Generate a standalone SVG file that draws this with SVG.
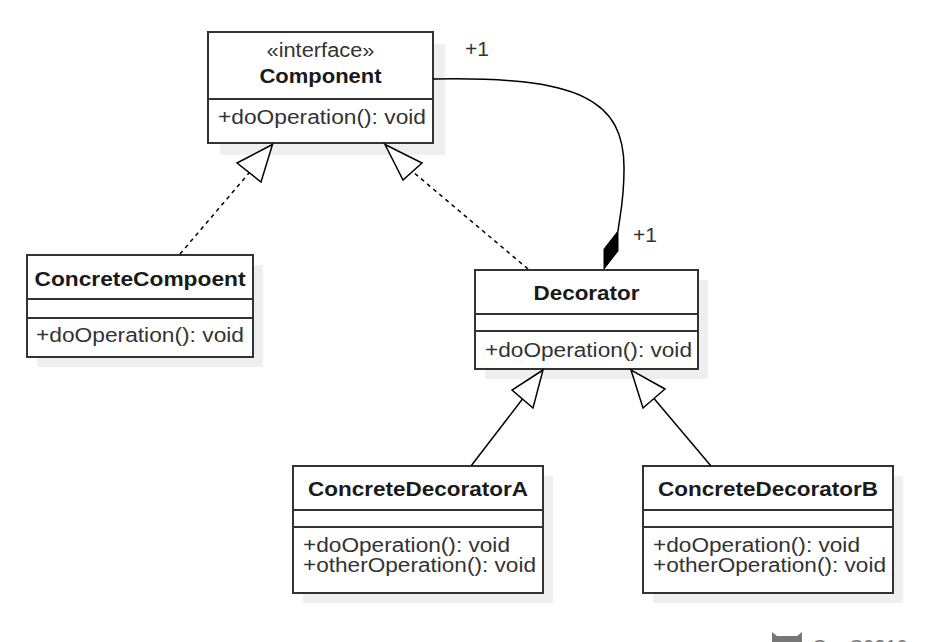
<svg xmlns="http://www.w3.org/2000/svg" width="952" height="642" viewBox="0 0 952 642">
<style>
.box{fill:#fff;stroke:#333;stroke-width:2}
.sh{fill:#efefef}
.div{stroke:#333;stroke-width:2}
.t{font-family:"Liberation Sans",Arial,sans-serif;font-size:20px;fill:#1a1a1a}
.b{font-weight:bold;text-anchor:middle}
.c{text-anchor:middle}
.m{fill:#333}
.ln{fill:none;stroke:#000;stroke-width:1.5}
.dash{stroke-dasharray:4 4}
.tri{fill:#fff;stroke:#000;stroke-width:1.5}
</style>
<rect width="952" height="642" fill="#fff"/>
<g id="Component">
<rect class="sh" x="220" y="44" width="225" height="111"/>
<rect class="box" x="208" y="32" width="225" height="111"/>
<line class="div" x1="208" y1="99" x2="433" y2="99"/>
<text class="t c m" x="320.5" y="57" textLength="108" lengthAdjust="spacingAndGlyphs">«interface»</text>
<text class="t b" x="320.5" y="83" textLength="122" lengthAdjust="spacingAndGlyphs">Component</text>
<text class="t m" x="218" y="124" textLength="208" lengthAdjust="spacingAndGlyphs">+doOperation(): void</text>
</g>
<g id="ConcreteCompoent">
<rect class="sh" x="37" y="265" width="226" height="102"/>
<rect class="box" x="27" y="255" width="226" height="102"/>
<line class="div" x1="27" y1="299" x2="253" y2="299"/>
<line class="div" x1="27" y1="318" x2="253" y2="318"/>
<text class="t b" x="140" y="286" textLength="211" lengthAdjust="spacingAndGlyphs">ConcreteCompoent</text>
<text class="t m" x="36" y="342" textLength="208" lengthAdjust="spacingAndGlyphs">+doOperation(): void</text>
</g>
<g id="Decorator">
<rect class="sh" x="485" y="280" width="223" height="99"/>
<rect class="box" x="475" y="270" width="223" height="99"/>
<line class="div" x1="475" y1="314" x2="698" y2="314"/>
<line class="div" x1="475" y1="331" x2="698" y2="331"/>
<text class="t b" x="586.5" y="300" textLength="106" lengthAdjust="spacingAndGlyphs">Decorator</text>
<text class="t m" x="485" y="357" textLength="207" lengthAdjust="spacingAndGlyphs">+doOperation(): void</text>
</g>
<g id="ConcreteDecoratorA">
<rect class="sh" x="303" y="476" width="250" height="127"/>
<rect class="box" x="293" y="466" width="250" height="127"/>
<line class="div" x1="293" y1="510" x2="543" y2="510"/>
<line class="div" x1="293" y1="527" x2="543" y2="527"/>
<text class="t b" x="418" y="496" textLength="220" lengthAdjust="spacingAndGlyphs">ConcreteDecoratorA</text>
<text class="t m" x="303" y="552" textLength="207" lengthAdjust="spacingAndGlyphs">+doOperation(): void</text>
<text class="t m" x="303" y="572" textLength="233" lengthAdjust="spacingAndGlyphs">+otherOperation(): void</text>
</g>
<g id="ConcreteDecoratorB">
<rect class="sh" x="653" y="476" width="250" height="127"/>
<rect class="box" x="643" y="466" width="250" height="127"/>
<line class="div" x1="643" y1="510" x2="893" y2="510"/>
<line class="div" x1="643" y1="527" x2="893" y2="527"/>
<text class="t b" x="768" y="496" textLength="220" lengthAdjust="spacingAndGlyphs">ConcreteDecoratorB</text>
<text class="t m" x="653" y="552" textLength="207" lengthAdjust="spacingAndGlyphs">+doOperation(): void</text>
<text class="t m" x="653" y="572" textLength="233" lengthAdjust="spacingAndGlyphs">+otherOperation(): void</text>
</g>
<g id="connectors">
<line class="ln dash" x1="180" y1="254" x2="249" y2="173"/>
<polygon class="tri" points="272.5,144.5 237,163 261,182"/>
<line class="ln dash" x1="528" y1="269" x2="412.5" y2="171.5"/>
<polygon class="tri" points="385,144.5 403,180 422,163"/>
<line class="ln" x1="471" y1="466" x2="522.5" y2="399"/>
<polygon class="tri" points="543,370 512,390 533,408"/>
<line class="ln" x1="711" y1="466" x2="654" y2="398.5"/>
<polygon class="tri" points="631,370 643,408 665,389"/>
<path class="ln" d="M433,79 C580,76 625,100 624,170 C624,200 620,215 618,231"/>
<polygon points="604,269 604,249 618,231 618,251" fill="#000" stroke="#000" stroke-width="1"/>
<text class="t m" x="465" y="56" textLength="24" lengthAdjust="spacingAndGlyphs">+1</text>
<text class="t m" x="633" y="242" textLength="24" lengthAdjust="spacingAndGlyphs">+1</text>
</g>
<g id="watermark" fill="#777">
<path d="M772,642 L772,632 L777,636 L797,636 L802,632 L802,642 Z"/>
<text x="812" y="654" font-family="Liberation Sans,Arial,sans-serif" font-size="20" fill="#777">Co_C9210</text>
</g>
</svg>
